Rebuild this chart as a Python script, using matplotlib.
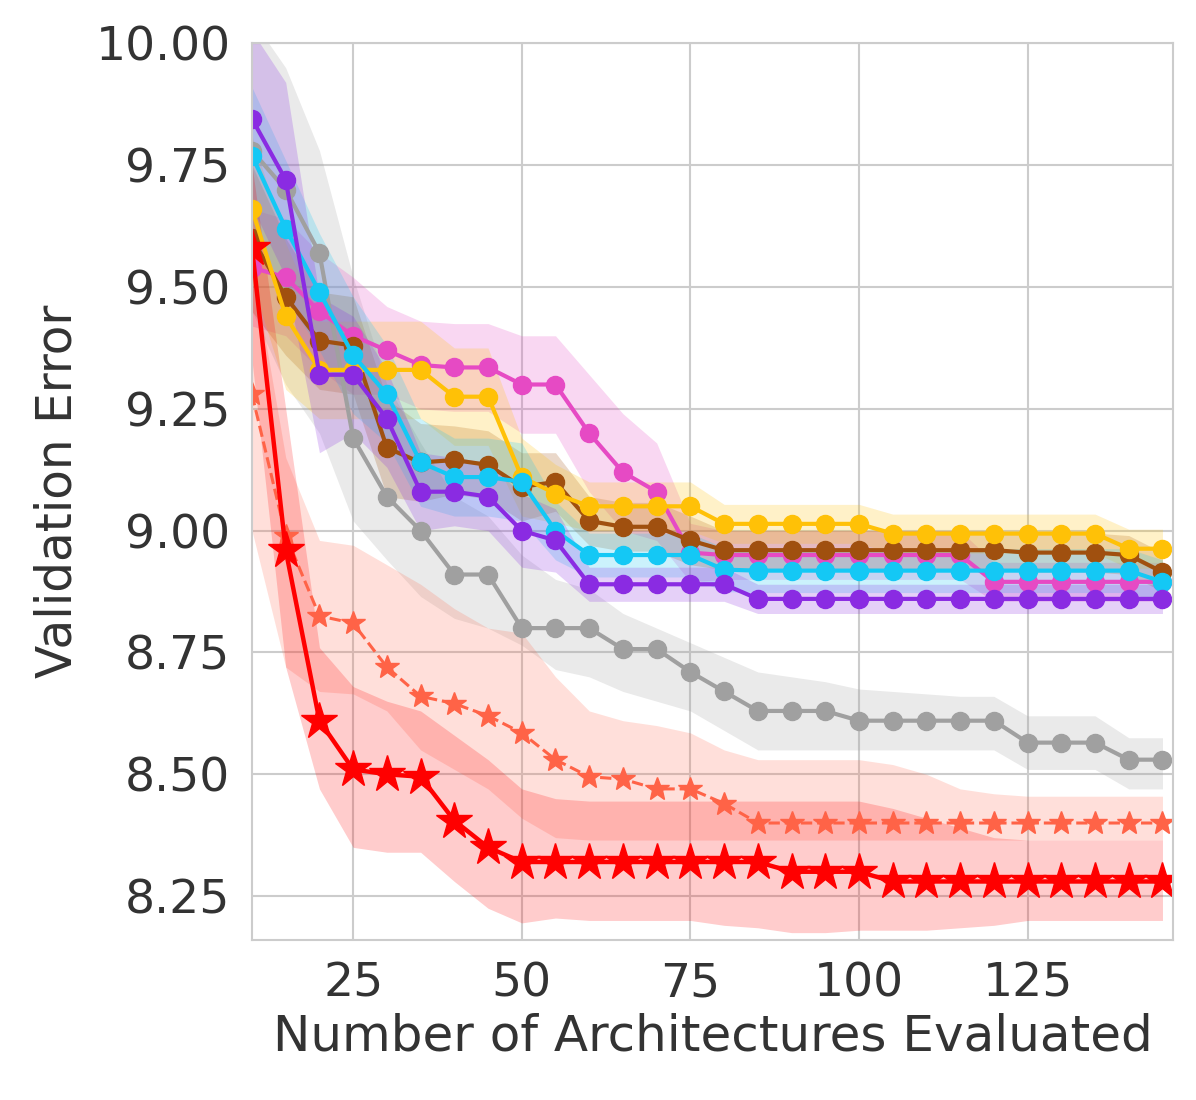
import matplotlib
matplotlib.use("Agg")
import matplotlib.pyplot as plt
import seaborn as sns
from matplotlib.ticker import FormatStrFormatter

# architectures evaluated (marker positions)
evaluated = [10, 15, 20, 25, 30, 35, 40, 45, 50, 55, 60, 65, 70, 75, 80,
             85, 90, 95, 100, 105, 110, 115, 120, 125, 130, 135, 140, 145]

# red solid (best method)
red_mean = [9.58, 8.96, 8.61, 8.51, 8.50, 8.495, 8.405, 8.35, 8.32, 8.32, 8.32, 8.32, 8.32, 8.32,
            8.32, 8.32, 8.30, 8.30, 8.30, 8.28, 8.28, 8.28, 8.28, 8.28, 8.28, 8.28, 8.28, 8.28]
red_lo = [9.35, 8.72, 8.47, 8.35, 8.34, 8.34, 8.28, 8.225, 8.195, 8.205, 8.20, 8.20, 8.20, 8.20,
          8.19, 8.185, 8.175, 8.175, 8.18, 8.18, 8.18, 8.185, 8.19, 8.20, 8.20, 8.20, 8.20, 8.20]
red_hi = [9.75, 9.25, 8.76, 8.68, 8.65, 8.63, 8.58, 8.53, 8.47, 8.45, 8.445, 8.445, 8.445, 8.445,
          8.445, 8.445, 8.445, 8.445, 8.445, 8.43, 8.41, 8.39, 8.37, 8.365, 8.365, 8.365, 8.365, 8.365]

# tomato dashed
dash_mean = [9.28, 8.99, 8.825, 8.81, 8.72, 8.66, 8.645, 8.62, 8.585, 8.53, 8.495, 8.49, 8.47, 8.47,
             8.44, 8.40, 8.40, 8.40, 8.40, 8.40, 8.40, 8.40, 8.40, 8.40, 8.40, 8.40, 8.40, 8.40]
dash_lo = [9.00, 8.72, 8.67, 8.665, 8.63, 8.55, 8.51, 8.47, 8.41, 8.37, 8.365, 8.365, 8.365, 8.365,
           8.365, 8.365, 8.365, 8.365, 8.365, 8.365, 8.365, 8.365, 8.365, 8.365, 8.365, 8.365, 8.365, 8.365]
dash_hi = [9.55, 9.15, 8.98, 8.97, 8.93, 8.89, 8.84, 8.80, 8.79, 8.70, 8.63, 8.61, 8.60, 8.585,
           8.55, 8.53, 8.53, 8.53, 8.53, 8.52, 8.50, 8.47, 8.46, 8.455, 8.455, 8.455, 8.455, 8.455]

# grey
grey_mean = [9.78, 9.70, 9.57, 9.19, 9.07, 9.00, 8.91, 8.91, 8.80, 8.80, 8.80, 8.757, 8.757, 8.71,
             8.67, 8.63, 8.63, 8.63, 8.61, 8.61, 8.61, 8.61, 8.61, 8.565, 8.565, 8.565, 8.53, 8.53]
grey_lo = [9.45, 9.30, 9.20, 9.02, 8.94, 8.865, 8.82, 8.80, 8.765, 8.715, 8.70, 8.67, 8.65, 8.63,
           8.59, 8.55, 8.55, 8.55, 8.55, 8.55, 8.55, 8.55, 8.55, 8.51, 8.51, 8.51, 8.47, 8.47]
grey_hi = [10.05, 9.95, 9.78, 9.52, 9.30, 9.18, 9.07, 9.03, 8.95, 8.90, 8.88, 8.83, 8.80, 8.77,
           8.74, 8.71, 8.70, 8.69, 8.675, 8.67, 8.665, 8.66, 8.66, 8.62, 8.62, 8.62, 8.575, 8.575]

# the upper cluster: mean and spread
pink_mean = [9.54, 9.52, 9.45, 9.40, 9.37, 9.34, 9.335, 9.335, 9.30, 9.30, 9.20, 9.12, 9.08, 8.955,
             8.95, 8.95, 8.95, 8.95, 8.95, 8.95, 8.95, 8.95, 8.895, 8.895, 8.895, 8.895, 8.895, 8.895]
pink_sd = [0.12, 0.12, 0.12, 0.12, 0.09, 0.09, 0.09, 0.09, 0.10, 0.10, 0.12, 0.12, 0.10, 0.06,
           0.05, 0.05, 0.05, 0.05, 0.05, 0.05, 0.05, 0.05, 0.04, 0.04, 0.04, 0.04, 0.04, 0.04]

brown_mean = [9.60, 9.48, 9.39, 9.38, 9.17, 9.14, 9.145, 9.135, 9.09, 9.10, 9.02, 9.008, 9.008, 8.98,
              8.96, 8.96, 8.96, 8.96, 8.96, 8.96, 8.96, 8.96, 8.96, 8.955, 8.955, 8.955, 8.95, 8.915]
brown_sd = [0.15, 0.12, 0.10, 0.10, 0.10, 0.08, 0.07, 0.07, 0.07, 0.06, 0.05, 0.05, 0.05, 0.05,
            0.04, 0.04, 0.04, 0.04, 0.04, 0.04, 0.04, 0.04, 0.04, 0.04, 0.04, 0.04, 0.04, 0.04]

yellow_mean = [9.66, 9.44, 9.33, 9.33, 9.33, 9.33, 9.275, 9.275, 9.11, 9.076, 9.05, 9.05, 9.05, 9.05,
               9.014, 9.014, 9.014, 9.014, 9.014, 8.994, 8.994, 8.994, 8.994, 8.994, 8.994, 8.994, 8.963, 8.963]
yellow_sd = [0.15, 0.15, 0.10, 0.10, 0.10, 0.10, 0.10, 0.10, 0.08, 0.06, 0.05, 0.05, 0.05, 0.05,
             0.04, 0.04, 0.04, 0.04, 0.04, 0.04, 0.04, 0.04, 0.04, 0.04, 0.04, 0.04, 0.04, 0.04]

cyan_mean = [9.77, 9.62, 9.49, 9.36, 9.28, 9.14, 9.11, 9.11, 9.10, 9.00, 8.95, 8.95, 8.95, 8.95,
             8.92, 8.918, 8.918, 8.918, 8.918, 8.918, 8.918, 8.918, 8.918, 8.918, 8.918, 8.918, 8.918, 8.895]
cyan_sd = [0.14, 0.14, 0.12, 0.12, 0.10, 0.09, 0.08, 0.08, 0.08, 0.06, 0.045, 0.045, 0.045, 0.045,
           0.045, 0.045, 0.045, 0.045, 0.045, 0.045, 0.045, 0.045, 0.045, 0.045, 0.045, 0.045, 0.045, 0.045]

purple_mean = [9.845, 9.72, 9.32, 9.32, 9.23, 9.08, 9.08, 9.07, 9.00, 8.98, 8.89, 8.89, 8.89, 8.89,
               8.89, 8.86, 8.86, 8.86, 8.86, 8.86, 8.86, 8.86, 8.86, 8.86, 8.86, 8.86, 8.86, 8.86]
purple_sd = [0.18, 0.20, 0.16, 0.12, 0.10, 0.08, 0.07, 0.07, 0.075, 0.065, 0.035, 0.035, 0.035, 0.035,
             0.035, 0.03, 0.03, 0.03, 0.03, 0.03, 0.03, 0.03, 0.03, 0.03, 0.03, 0.03, 0.03, 0.03]


def band(ax, x, lo, hi, color, alpha=0.2):
    ax.fill_between(x, lo, hi, color=color, alpha=alpha, linewidth=0)


sns.set_style("whitegrid")
plt.rcParams['font.family'] = ['DejaVu Sans']

fig, ax = plt.subplots(figsize=(11.96, 11.0), dpi=100)
fig.subplots_adjust(left=0.2107, right=0.981, bottom=0.1455, top=0.9605)

# grey
band(ax, evaluated, grey_lo, grey_hi, '#a0a0a0', 0.22)
ax.plot(evaluated, grey_mean, color='#a0a0a0', marker='o', ms=13, lw=3)

# coloured cluster, mean +/- sd
cluster = [
    (pink_mean, pink_sd, '#e64ac4'),
    (brown_mean, brown_sd, '#a0500f'),
    (yellow_mean, yellow_sd, '#ffc107'),
    (cyan_mean, cyan_sd, '#14c8f5'),
    (purple_mean, purple_sd, '#8a2be2'),
]
for mean, sd, col in cluster:
    lo = [m - s for m, s in zip(mean, sd)]
    hi = [m + s for m, s in zip(mean, sd)]
    band(ax, evaluated, lo, hi, col, 0.22)
    ax.plot(evaluated, mean, color=col, marker='o', ms=13, lw=3)

# red ones on top
band(ax, evaluated, dash_lo, dash_hi, 'tomato', 0.2)
band(ax, evaluated, red_lo, red_hi, 'red', 0.2)
ax.plot(evaluated, dash_mean, color='tomato', ls='--', marker='*', ms=18, lw=2.2)
ax.plot(evaluated, red_mean, color='red', marker='*', ms=28, lw=3.2)

ax.set_xlim(10, 146.6)
ax.set_ylim(8.16, 10.0)
ax.set_xticks([25, 50, 75, 100, 125])
ax.set_yticks([8.25, 8.5, 8.75, 9.0, 9.25, 9.5, 9.75, 10.0])
ax.yaxis.set_major_formatter(FormatStrFormatter('%.2f'))
ax.tick_params(labelsize=34, colors='.2', pad=12)
ax.grid(True, color='.8', linewidth=1.5)
for sp in ax.spines.values():
    sp.set_color('.8')
    sp.set_linewidth(1.5)

ax.set_xlabel('Number of Architectures Evaluated', fontsize=36, color='.2', labelpad=4)
ax.set_ylabel('Validation Error', fontsize=35, color='.2', labelpad=10)

plt.savefig('out.png', dpi=100)
plt.close(fig)
